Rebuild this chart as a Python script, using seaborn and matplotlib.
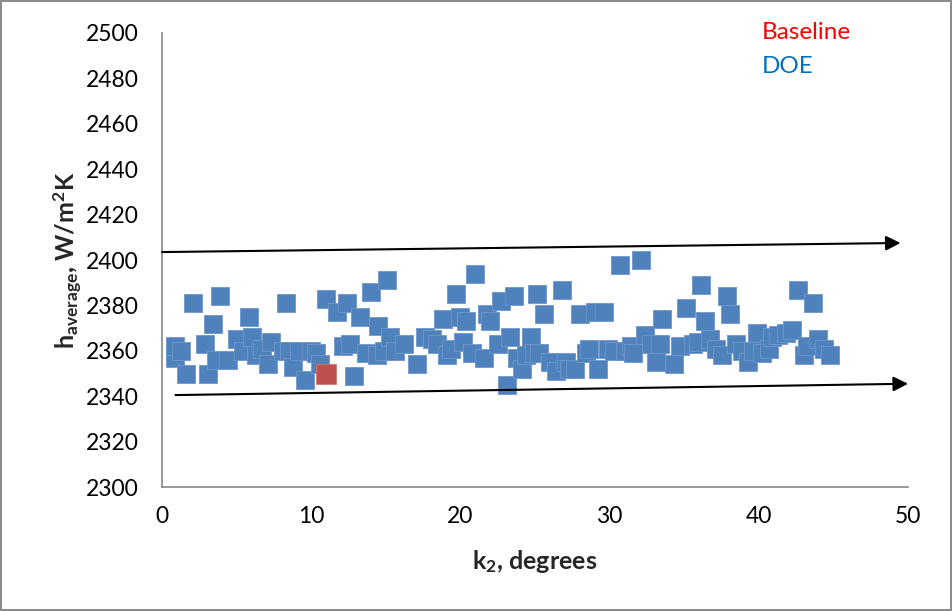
import numpy as np
import pandas as pd
import matplotlib
matplotlib.use('Agg')
from matplotlib import pyplot as plt
import seaborn as sns

# DOE points (k2 in degrees, h_average in W/m2K)
k2_doe = [0.9, 0.9, 1.3, 1.6, 2.1, 2.9, 3.1, 3.4, 3.6, 3.9, 4.4, 5.0, 5.4, 5.8, 6.0,
          6.3, 6.7, 7.1, 7.3, 8.1, 8.3, 8.5, 8.8, 9.2, 9.6, 10.0, 10.3, 10.6, 11.0,
          11.7, 12.1, 12.4, 12.6, 12.9, 13.3, 13.7, 14.0, 14.4, 14.5, 14.9, 15.1,
          15.3, 15.6, 16.2, 17.1, 17.6, 18.1, 18.4, 18.8, 19.1, 19.4, 19.7, 20.0,
          20.2, 20.4, 20.8, 21.0, 21.6, 21.8, 22.0, 22.5, 22.7, 23.1, 23.3, 23.6,
          23.8, 24.1, 24.4, 24.7, 24.9, 25.1, 25.3, 25.6, 26.0, 26.4, 26.8, 27.1,
          27.3, 27.7, 28.0, 28.4, 28.6, 29.0, 29.2, 29.6, 29.9, 30.3, 30.7, 31.0,
          31.4, 31.6, 32.1, 32.4, 32.8, 33.1, 33.4, 33.5, 34.3, 34.7, 35.1, 35.6,
          35.9, 36.1, 36.4, 36.7, 37.1, 37.5, 37.9, 38.1, 38.5, 38.9, 39.3, 39.6,
          39.9, 40.2, 40.7, 40.9, 41.3, 41.8, 42.2, 42.6, 43.0, 43.2, 43.6, 44.0,
          44.4, 44.8]
h_doe = [2357, 2362, 2360, 2350, 2381, 2363, 2350, 2372, 2356, 2384, 2356, 2365, 2360,
         2375, 2366, 2358, 2361, 2354, 2364, 2360, 2381, 2360, 2353, 2360, 2347, 2360,
         2359, 2354, 2383, 2377, 2362, 2381, 2363, 2349, 2375, 2359, 2386, 2358, 2371,
         2360, 2391, 2366, 2360, 2363, 2354, 2366, 2365, 2363, 2374, 2358, 2361, 2385,
         2375, 2364, 2373, 2359, 2394, 2357, 2376, 2373, 2363, 2382, 2345, 2366, 2384,
         2357, 2352, 2358, 2366, 2359, 2385, 2359, 2376, 2355, 2351, 2387, 2355, 2352,
         2352, 2376, 2359, 2361, 2377, 2352, 2377, 2361, 2360, 2398, 2360, 2362, 2359,
         2400, 2367, 2363, 2355, 2363, 2374, 2354, 2362, 2379, 2363, 2364, 2389, 2373,
         2365, 2361, 2358, 2384, 2376, 2363, 2360, 2355, 2360, 2368, 2359, 2361, 2366,
         2367, 2368, 2369, 2387, 2358, 2362, 2381, 2365, 2361, 2358]

k2_base = [11.0]
h_base = [2350]

# trend arrows (start, end)
upper_arrow = [(0.0, 2403.5), (49.5, 2407.5)]
lower_arrow = [(0.9, 2340.5), (50.0, 2345.5)]

doe = pd.DataFrame({'k2': k2_doe, 'h': h_doe})
base = pd.DataFrame({'k2': k2_base, 'h': h_base})

sns.set_style('white')
plt.rcParams['font.family'] = ['Lato', 'DejaVu Sans']
plt.rcParams['mathtext.fontset'] = 'custom'
plt.rcParams['mathtext.rm'] = 'Lato'
plt.rcParams['mathtext.bf'] = 'Lato:bold'
plt.rcParams['mathtext.default'] = 'bf'

fig, ax = plt.subplots(figsize=(9.52, 6.11), dpi=100)
fig.subplots_adjust(left=0.1702, right=0.9538, top=0.946, bottom=0.2029)
fig.patch.set_edgecolor('#8c8c8c')
fig.patch.set_linewidth(1.5)

sns.scatterplot(data=doe, x='k2', y='h', marker='s', s=150, color='#4F81BD',
                edgecolor='#6f97cc', linewidth=0.6, ax=ax, zorder=3)
sns.scatterplot(data=base, x='k2', y='h', marker='s', s=220, color='#C0504D',
                edgecolor='#d07a78', linewidth=0.6, ax=ax, zorder=4)

for (x0, y0), (x1, y1) in [upper_arrow, lower_arrow]:
    ax.annotate('', xy=(x1, y1), xytext=(x0, y0),
                arrowprops=dict(arrowstyle='-|>', color='black', lw=1.5,
                                mutation_scale=22, shrinkA=0, shrinkB=0),
                annotation_clip=False)

ax.set_xlim(0, 50)
ax.set_ylim(2300, 2500)
ax.set_xticks(np.arange(0, 51, 10))
ax.set_yticks(np.arange(2300, 2501, 20))

for side in ['top', 'right']:
    ax.spines[side].set_visible(False)
for side in ['left', 'bottom']:
    ax.spines[side].set_color('#868686')
    ax.spines[side].set_linewidth(1.2)

ax.tick_params(axis='both', direction='in', length=6, width=1.2, color='#868686',
               labelsize=16.5, labelcolor='black')
ax.tick_params(axis='y', pad=17)
ax.tick_params(axis='x', pad=14)

ax.set_xlabel('k$_{2}$, degrees', fontsize=18, fontweight='bold', labelpad=15)
ax.set_ylabel(r'h$_{average}$, W/m$^{2}$K', fontsize=18, fontweight='bold')
ax.yaxis.set_label_coords(-0.104, 0.5)

fig.text(0.800, 0.9476, 'Baseline', color='#FF0000', fontsize=17.5, va='center', ha='left')
fig.text(0.800, 0.891, 'DOE', color='#0070C0', fontsize=17.5, va='center', ha='left')

fig.savefig('out.png', dpi=100)
